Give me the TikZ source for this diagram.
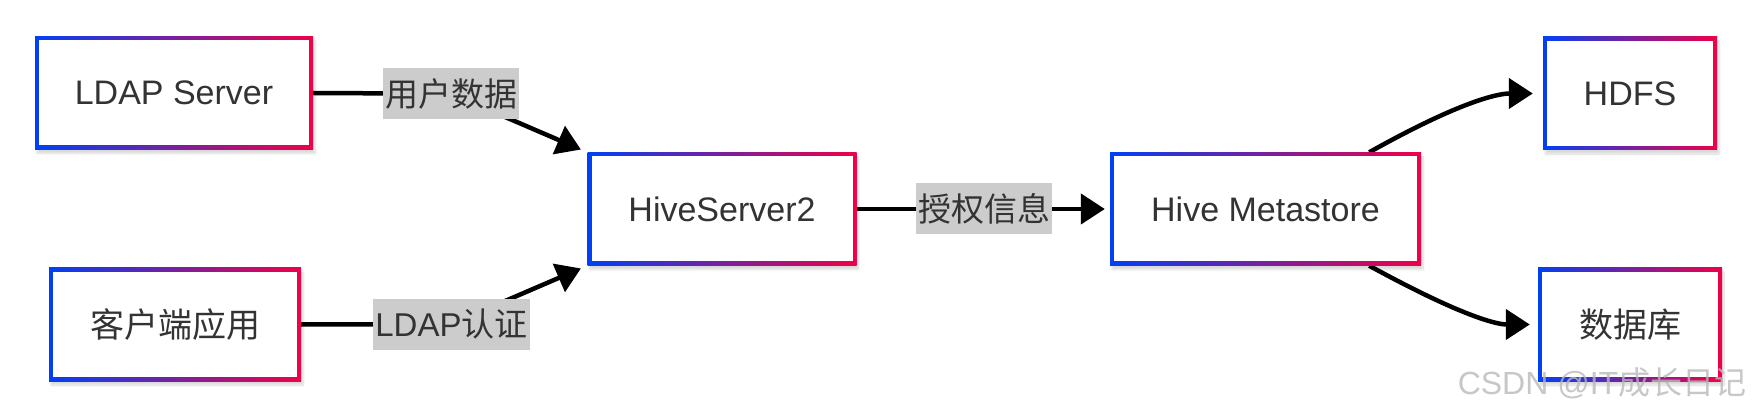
\documentclass[tikz,border=0pt]{standalone}
\usepackage{fontspec}
\setmainfont{Liberation Sans}
\newfontfamily\cjk{Noto Sans CJK SC}
\usetikzlibrary{arrows.meta,calc,shadows.blur}
\definecolor{cblue}{RGB}{0,64,245}
\definecolor{cred}{RGB}{240,0,72}
\definecolor{txt}{RGB}{51,51,51}
\definecolor{lblbg}{RGB}{204,204,204}
\pgfdeclarelayer{edges}
\pgfsetlayers{edges,main}
\tikzset{
  box/.style={left color=cblue, right color=cred, draw=none, minimum height=113pt,
    text=txt, font=\fontsize{34}{40}\selectfont, inner sep=0pt,
    blur shadow={shadow xshift=2pt, shadow yshift=-4pt, shadow blur steps=8, shadow opacity=15},
    path picture={\fill[white] ($(path picture bounding box.south west)+(4pt,4pt)$) rectangle ($(path picture bounding box.north east)+(-4pt,-4pt)$);}},
  lbl/.style={fill=lblbg, text=txt, font=\fontsize{33}{40}\selectfont, inner sep=2pt, minimum height=51pt},
  conn/.style={line width=4.5pt, -{Triangle[length=24pt,width=30pt]}},
  plainline/.style={line width=4.5pt}
}
\begin{document}
\begin{tikzpicture}[x=1pt,y=-1pt]
\useasboundingbox (0,0) rectangle (1754,414);
\node[box, minimum width=278pt] (ldap) at (174,93) {LDAP Server};
\node[box, minimum width=252pt] (client) at (175,324.5) {\cjk 客户端应用};
\node[box, minimum width=269pt] (hs2) at (722,209) {HiveServer2};
\node[box, minimum width=311pt] (meta) at (1265.5,209) {Hive Metastore};
\node[box, minimum width=174pt] (hdfs) at (1630,93.5) {HDFS};
\node[box, minimum width=184pt] (db) at (1630,324.5) {\cjk 数据库};

\node[lbl] (l1) at (451,93.7) {\cjk 用户数据};
\node[lbl] (l2) at (451.5,324) {LDAP{\cjk 认证}};
\node[lbl] (l3) at (984,208.5) {\cjk 授权信息};

\coordinate (m1) at ($(meta.north east)+(-52pt,0)$);
\coordinate (m2) at ($(meta.south east)+(-52pt,0)$);

\begin{pgfonlayer}{edges}
\draw[plainline] (ldap.east) -- (l1.center);
\draw[conn, shorten >=7pt] (l1.center) -- (hs2.north west);
\draw[plainline] (client.east) -- (l2.center);
\draw[conn, shorten >=7pt] (l2.center) -- (hs2.south west);
\draw[conn, shorten >=5pt] (hs2.east) -- (meta.west);
\draw[conn, shorten >=10pt] (m1) .. controls +(100,-56) and +(-40,0) .. (hdfs.west);
\draw[conn, shorten >=8pt] (m2) .. controls +(95,52) and +(-40,0) .. (db.west);
\end{pgfonlayer}

\node[text=gray!55, opacity=0.8, font=\fontsize{32}{34}\selectfont] (wm) at (1602,383) {CSDN @IT{\cjk 成长日记}};
\end{tikzpicture}
\end{document}
